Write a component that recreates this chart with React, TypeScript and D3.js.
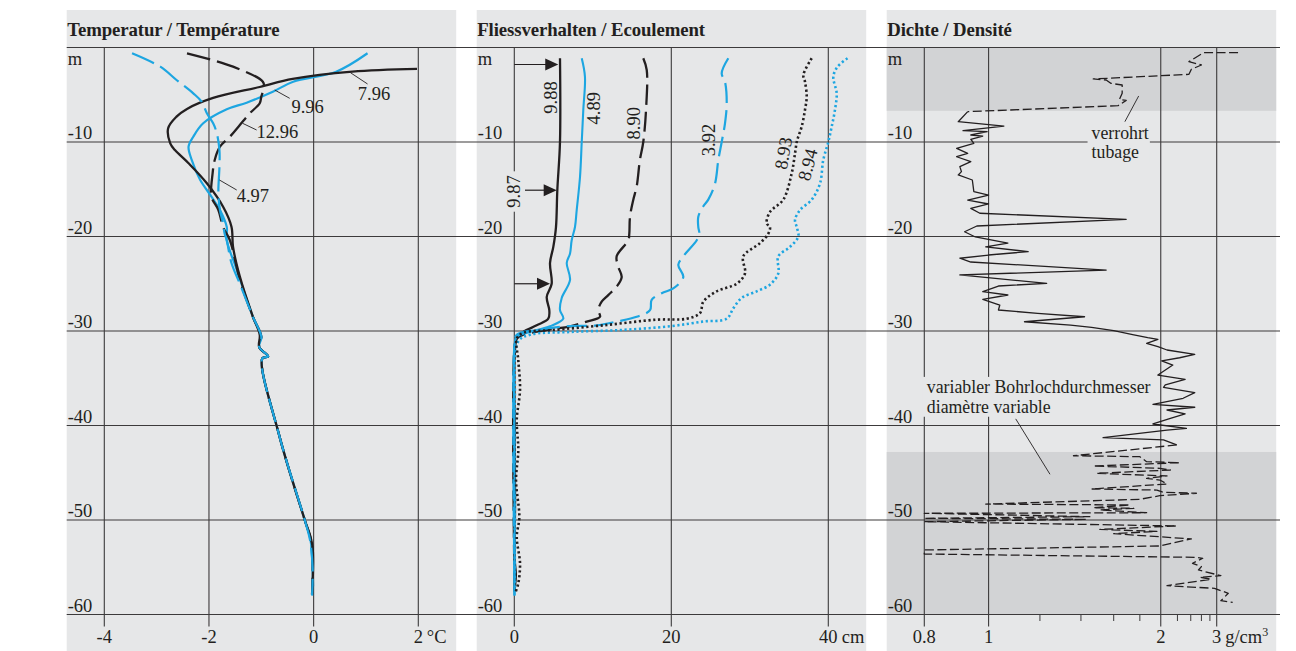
import React, { useEffect, useRef } from "react";
import * as d3 from "d3";

type Pt = [number, number]; // [value, depth in m]

const BG = "#e6e7e8";
const SHADE = "#d2d3d5";
const INK = "#231f20";
const GRID = "#3c3a3b";
const BLUE = "#1da6e1";
const FONT = "'Liberation Serif', 'Times New Roman', serif";
const FS = 18.5; // numbers
const FS_NOTE = 17.8;

// depth axis
const depthTicks = [0, -10, -20, -30, -40, -50, -60];
const depthLabels = ["m", "-10", "-20", "-30", "-40", "-50", "-60"];

// x axes
const tempTicks = [-4, -2, 0, 2];
const flowTicks = [0, 20, 40];
const densTicks = [0.8, 1, 2, 3];
const densMinor = [1.2, 1.4, 1.6, 1.8, 2.2, 2.4, 2.6, 2.8];

// Temperatur (°C)
const t0796: Pt[] = [[1.975,-2.27],[0.74,-2.56],[-0.4,-3.33],[-1.03,-4.18],[-1.92,-5.34],[-2.42,-6.5],[-2.62,-7.32],[-2.78,-8.55],[-2.74,-10.14],[-2.65,-10.85],[-2.39,-12.25],[-2.04,-14.37],[-1.73,-16.85],[-1.57,-18.96],[-1.54,-21.1],[-1.41,-24.25],[-1.16,-28.5],[-1.03,-30.4],[-1.04,-31.7],[-0.87,-32.7],[-0.98,-32.9],[-0.65,-41.2],[-0.17,-50],[-0.03,-52.5],[-0.01,-54.2],[-0.03,-57.9]];
const t0996: Pt[] = [[1.03,-0.61],[0.43,-2.56],[-0.39,-3.62],[-0.78,-4.68],[-1.28,-5.84],[-1.66,-6.54],[-2.11,-8.02],[-2.3,-9.44],[-2.39,-10.5],[-2.33,-11.9],[-2.17,-14.0],[-1.95,-15.8],[-1.79,-17.2],[-1.66,-19.0],[-1.66,-20.4],[-1.47,-23.5],[-1.16,-28.5],[-1.0,-30.6],[-1.04,-31.7],[-0.87,-32.7],[-0.98,-32.9],[-0.65,-41.2],[-0.17,-50],[-0.06,-52.1],[-0.02,-55.3],[-0.01,-57]];
const t1296: Pt[] = [[-2.42,-0.61],[-1.54,-2.03],[-0.97,-3.62],[-0.95,-4.2],[-1.0,-5.2],[-1.03,-5.9],[-1.22,-6.96],[-1.41,-8.2],[-1.6,-9.44],[-1.79,-10.5],[-1.89,-11.9],[-1.93,-13.3],[-1.95,-15.8],[-1.82,-17.2],[-1.73,-19.0],[-1.6,-20.4],[-1.41,-24.6],[-1.16,-28.5],[-1.0,-30.6],[-1.04,-31.7],[-0.87,-32.7],[-0.98,-32.9],[-0.65,-41.2],[-0.17,-50],[-0.04,-52.3],[-0.03,-57.9]];
const t0497: Pt[] = [[-3.47,-0.61],[-2.93,-2.03],[-2.62,-3.44],[-2.3,-4.85],[-2.14,-5.73],[-2.04,-6.96],[-1.92,-8.02],[-1.85,-9.08],[-1.8,-10.85],[-1.8,-12.6],[-1.82,-15.4],[-1.79,-17.2],[-1.73,-18.6],[-1.7,-19.7],[-1.66,-20.4],[-1.57,-22.8],[-1.41,-25],[-1.16,-28.5],[-1.0,-30.6],[-1.04,-31.7],[-0.87,-32.7],[-0.98,-32.9],[-0.65,-41.2],[-0.17,-50],[-0.07,-52.1],[-0.02,-55],[-0.03,-58]];

// Fliessverhalten (cm)
const f0988: Pt[] = [[5.82,-1.14],[5.82,-10],[5.48,-15.1],[5.31,-19],[4.97,-21.1],[4.55,-22.8],[4.76,-25],[4.13,-26.4],[4.46,-27.8],[4.33,-28.7],[2.85,-29.4],[1.15,-30.1],[0.31,-30.8],[0.09,-32],[0.03,-37.3],[0.1,-47.9],[0.05,-54.2],[0.2,-55.8],[0.03,-57.4]];
const f0489: Pt[] = [[8.59,-1.14],[9.0,-3.09],[8.79,-6.6],[8.59,-10],[8.37,-13.7],[7.95,-17.2],[7.73,-19],[7.31,-20.4],[7.1,-21.8],[6.68,-22.8],[7.1,-24.6],[6.04,-26.5],[5.82,-27.8],[6.24,-28.7],[4.55,-29.5],[2.0,-30.1],[0.31,-30.6],[0.03,-31.5],[0.0,-40],[0.05,-50],[0.0,-58]];
const f0890: Pt[] = [[16.43,-1.14],[16.87,-2.38],[16.78,-6.6],[16.43,-10],[16.0,-11.9],[15.59,-14.7],[15.16,-16.1],[14.74,-17.9],[14.65,-19.7],[14.52,-20.4],[13.04,-22.1],[13.25,-23.2],[13.68,-24.3],[13.04,-25.3],[11.97,-26.2],[11.13,-26.9],[10.7,-27.8],[10.92,-28.5],[9.22,-29.0],[7.1,-29.5],[4.13,-29.9],[1.15,-30.4],[0.31,-30.8],[0.05,-31.5],[0.05,-58]];
const f0392: Pt[] = [[27.26,-1.14],[26.42,-2.73],[26.84,-3.62],[27.06,-5.9],[26.84,-8.02],[26.42,-10],[25.99,-11.9],[25.57,-14.4],[24.71,-16.1],[24.08,-16.8],[23.44,-17.9],[23.44,-19.0],[23.57,-19.7],[23.24,-20.4],[21.53,-22.1],[20.89,-23.0],[21.53,-24.3],[20.25,-25.5],[18.78,-26.0],[17.5,-26.7],[17.29,-27.8],[15.59,-28.5],[13.04,-29.0],[10.5,-29.4],[6.68,-29.5],[2.85,-29.9],[0.31,-30.4],[0.05,-31.2],[0.05,-58]];
const f0893: Pt[] = [[37.89,-1.14],[36.82,-2.91],[37.03,-3.62],[37.25,-5.2],[37.03,-6.6],[36.61,-8.38],[36.18,-9.44],[35.98,-10],[35.76,-11.2],[35.34,-13.3],[34.27,-16.1],[32.57,-17.4],[32.15,-18.6],[32.57,-19.0],[32.36,-19.7],[31.3,-20.7],[29.17,-22.1],[29.39,-23.9],[28.33,-25.0],[25.78,-25.8],[24.08,-26.9],[23.66,-28.1],[21.96,-28.7],[18.14,-28.8],[11.34,-29.4],[4.97,-29.9],[1.15,-30.2],[0.31,-30.8],[0.51,-33.1],[0.73,-36.2],[0.31,-39.4],[0.51,-42.6],[0.22,-45.8],[0.64,-49.7],[0.31,-51.8],[0.73,-54.6],[0.51,-56.7],[0.09,-57.8]];
const f0894: Pt[] = [[42.45,-1.14],[41.18,-2.03],[40.64,-3.09],[41.07,-4.85],[40.85,-6.6],[40.43,-8.38],[40.0,-10],[39.36,-11.9],[38.94,-14.4],[37.89,-16.1],[36.39,-17.2],[35.76,-18.25],[35.98,-19.0],[36.18,-20.0],[35.12,-21.1],[33.63,-22.1],[33.63,-23.9],[32.57,-25.1],[30.88,-25.8],[28.97,-26.5],[27.9,-27.6],[27.06,-28.7],[24.08,-29.0],[19.83,-29.5],[13.46,-29.9],[7.1,-30.1],[2.0,-30.4],[0.51,-31.1],[0.06,-37.3],[0.06,-47.9],[0.06,-57.4]];

// arrows on the 9.88 profile: [depth, from cm, to cm]
const arrows: [number, number, number][] = [[-1.8, 0, 5.6], [-15.1, 1.36, 5.4], [-25, 0, 4.55]];

// Dichte (g/cm3): cased, open hole, variable diameter
const dCasing: Pt[] = [[4.4,-0.55],[2.65,-0.55],[2.6,-0.69],[2.37,-1.5],[2.6,-1.85],[2.41,-2.31],[2.37,-2.84],[1.47,-3.33],[1.55,-3.44],[1.58,-3.79],[1.66,-3.97],[1.66,-4.85],[1.64,-5.5],[1.69,-5.6],[1.63,-6.16],[0.93,-6.79]];
const dOpen: Pt[] = [[0.93,-6.79],[0.9,-7.85],[1.055,-8.31],[0.915,-8.8],[0.995,-8.91],[0.94,-9.26],[0.98,-9.37],[0.94,-9.71],[0.95,-10.14],[0.895,-10.67],[0.93,-11.2],[0.895,-11.56],[0.94,-12.08],[0.905,-12.61],[0.91,-13.14],[0.9,-13.49],[0.945,-14.02],[0.95,-15.26],[1.0,-15.61],[0.93,-16.14],[1.0,-16.56],[0.94,-17.02],[0.97,-17.54],[1.69,-18.18],[0.96,-18.89],[0.92,-19.5],[0.955,-20.05],[1.07,-20.7],[0.99,-21.1],[1.15,-21.6],[1.0,-21.96],[0.905,-22.3],[0.94,-22.7],[1.55,-23.55],[0.905,-24.07],[1.23,-24.95],[1.035,-25.24],[0.98,-25.84],[1.07,-26.19],[0.98,-26.65],[1.04,-27.25],[1.035,-27.78],[1.19,-28.13],[1.42,-28.49],[1.135,-29.02],[1.345,-29.37],[1.46,-29.61],[1.6,-29.97],[1.75,-30.42],[1.87,-30.71],[1.97,-30.88],[1.86,-31.3],[1.97,-31.66],[2.07,-32.01],[2.47,-32.47],[2.23,-32.83],[2.01,-33.17],[2.14,-33.6],[1.97,-34.66],[2.31,-35.11],[2.05,-35.71],[2.03,-35.96],[2.47,-36.53],[2.28,-37.12],[1.92,-37.76],[2.47,-38.07],[2.07,-38.36],[2.31,-38.78],[2.11,-39.24],[1.92,-39.84],[2.33,-40.3],[2.07,-40.48],[1.53,-41.29],[2.03,-41.53],[2.19,-42.06]];
const dVariable: Pt[] = [[2.19,-42.06],[1.36,-43.2],[1.8,-43.3],[1.86,-43.83],[2.23,-43.94],[1.47,-44.29],[1.99,-44.53],[2.11,-44.71],[1.49,-45.06],[2.07,-45.34],[1.86,-45.59],[1.99,-45.77],[2.07,-46.19],[1.46,-46.72],[1.96,-46.83],[2.03,-47.07],[2.5,-47.17],[1.99,-47.43],[1.8,-47.81],[0.99,-48.31],[1.72,-48.41],[1.47,-48.7],[1.75,-48.76],[1.51,-48.94],[1.86,-49.23],[0.8,-49.29],[1.45,-49.65],[0.8,-49.82],[1.43,-49.93],[0.8,-50.18],[2.19,-50.63],[1.51,-51.0],[1.96,-51.2],[1.6,-51.45],[2.41,-52.0],[1.99,-52.75],[0.8,-53.17],[0.8,-53.6],[2.5,-53.95],[2.63,-54.05],[2.43,-54.58],[2.6,-54.94],[2.54,-55.29],[3.15,-55.89],[2.57,-56.06],[2.83,-56.27],[2.07,-56.95],[2.93,-57.23],[3.5,-57.76],[3.15,-58.54],[3.8,-58.71]];
const shadeRanges: [number, number][] = [[0, -6.7], [-42.8, -60]];

const App = () => {
  const svgRef = useRef<SVGSVGElement | null>(null);

  useEffect(() => {
    const svg = d3.select(svgRef.current);
    svg.selectAll("*").remove();
    svg.style("font-family", FONT);

    const y = d3.scaleLinear().domain([0, -60]).range([47.5, 614.5]);
    const xTemp = d3.scaleLinear().domain([-4, 2]).range([104.3, 418.3]);
    const xFlow = d3.scaleLinear().domain([0, 40]).range([514.3, 828.3]);
    // density axis is linear in exp(-k*rho)
    const K = 1.124;
    const densLin = d3.scaleLinear().domain([Math.exp(-K * 0.8), Math.exp(-K * 3)]).range([924.3, 1216.7]);
    const xDens = (r: number) => densLin(Math.exp(-K * r));

    const panelW = 389.5;
    const panels = [
      { x0: 66.7, title: "Temperatur / Température", x: xTemp, ticks: tempTicks },
      { x0: 476.7, title: "Fliessverhalten / Ecoulement", x: xFlow, ticks: flowTicks },
      { x0: 886.7, title: "Dichte / Densité", x: xDens, ticks: densTicks },
    ];

    const bg = svg.append("g");
    const grid = svg.append("g");
    const masks = svg.append("g");
    const marks = svg.append("g");
    const texts = svg.append("g").attr("fill", INK);

    const yBottom = y(-60);

    panels.forEach((p) => {
      bg.append("rect").attr("x", p.x0).attr("y", 10).attr("width", panelW).attr("height", 641).attr("fill", BG);
      texts.append("text").attr("x", p.x0 + 0.5).attr("y", 35.5).attr("font-size", 18.8).attr("font-weight", "bold")
        .attr("letter-spacing", -0.1).text(p.title);

      p.ticks.forEach((t) => {
        grid.append("line").attr("x1", p.x(t)).attr("x2", p.x(t)).attr("y1", y(0)).attr("y2", yBottom + 12)
          .attr("stroke", GRID).attr("stroke-width", 1.1);
        texts.append("text").attr("x", p.x(t)).attr("y", 643).attr("text-anchor", "middle").attr("font-size", FS).text(`${t}`);
      });

      depthTicks.forEach((d, i) => {
        texts.append("text").attr("x", p.x0 + 1).attr("y", d === 0 ? y(0) + 17.5 : y(d) - 3)
          .attr("font-size", FS).text(depthLabels[i]);
      });
    });

    // shading of cased / variable-diameter sections
    shadeRanges.forEach(([a, b]) => {
      bg.append("rect").attr("x", panels[2].x0).attr("width", panelW).attr("y", y(a)).attr("height", y(b) - y(a)).attr("fill", SHADE);
    });

    densMinor.forEach((t) => {
      grid.append("line").attr("x1", xDens(t)).attr("x2", xDens(t)).attr("y1", yBottom).attr("y2", yBottom + 6.5)
        .attr("stroke", GRID).attr("stroke-width", 1);
    });

    // horizontal depth lines run across all panels
    depthTicks.forEach((d) => {
      grid.append("line").attr("x1", 66.7).attr("x2", 1280).attr("y1", y(d)).attr("y2", y(d))
        .attr("stroke", GRID).attr("stroke-width", 1.2);
    });

    // units after the last tick label
    const unit = (x: number, label: string, sup?: string) => {
      const t = texts.append("text").attr("x", x).attr("y", 643).attr("font-size", FS).text(label);
      if (sup) t.append("tspan").attr("font-size", 12).attr("dy", -7).text(sup);
    };
    unit(xTemp(2) + 8.5, "°C");
    unit(xFlow(40) + 13.5, "cm");
    unit(xDens(3) + 8.5, "g/cm", "3");

    const draw = (data: Pt[], xs: (v: number) => number, color: string, width: number, dash: string | null, curve: d3.CurveFactory = d3.curveCatmullRom) => {
      const line = d3.line<Pt>().x((d) => xs(d[0])).y((d) => y(d[1])).curve(curve);
      marks.append("path").attr("d", line(data) as string).attr("fill", "none").attr("stroke", color)
        .attr("stroke-width", width).attr("stroke-dasharray", dash).attr("stroke-linejoin", "round");
    };

    // temperature (blue dashed on top, black shows through its gaps)
    draw(t0996, xTemp, BLUE, 2.2, null);
    draw(t0796, xTemp, INK, 2.3, null);
    draw(t1296, xTemp, INK, 2.3, "24,7");
    draw(t0497, xTemp, BLUE, 2.2, "24,7");

    // flow
    draw(f0988, xFlow, INK, 2.3, null);
    draw(f0890, xFlow, INK, 2.3, "20,7");
    draw(f0489, xFlow, BLUE, 2.1, null);
    draw(f0392, xFlow, BLUE, 2.2, "20,7");
    draw(f0894, xFlow, BLUE, 2.6, "2.2,2.6");
    draw(f0893, xFlow, INK, 2.6, "2.2,2.6");

    arrows.forEach(([d, a, b]) => {
      const yy = y(d), x1 = xFlow(a), x2 = xFlow(b);
      marks.append("line").attr("x1", x1).attr("x2", x2 - 10).attr("y1", yy).attr("y2", yy).attr("stroke", INK).attr("stroke-width", 1.2);
      marks.append("path").attr("d", `M${x2},${yy}L${x2 - 13},${yy - 6}L${x2 - 13},${yy + 6}Z`).attr("fill", INK);
    });

    // density
    draw(dCasing, xDens, INK, 1.3, "9,3.5", d3.curveLinear);
    draw(dOpen, xDens, INK, 1.3, null, d3.curveLinear);
    draw(dVariable, xDens, INK, 1.3, "9,3.5", d3.curveLinear);

    // labels for temperature profiles: [text, T, baseline depth, leader T1, d1, T2, d2]
    const tempLabels: [string, number, number, number, number, number, number][] = [
      ["7.96", 0.844, -5.56, 0.705, -2.67, 1.03, -3.86],
      ["9.96", -0.425, -6.96, -0.743, -4.5, -0.457, -5.38],
      ["12.96", -1.09, -9.61, -1.358, -8.02, -1.09, -8.73],
      ["4.97", -1.47, -16.32, -1.8, -14.02, -1.47, -15.08],
    ];
    tempLabels.forEach(([s, t, d, a1, b1, a2, b2]) => {
      texts.append("text").attr("x", xTemp(t)).attr("y", y(d)).attr("font-size", FS).text(s);
      marks.append("line").attr("x1", xTemp(a1)).attr("y1", y(b1)).attr("x2", xTemp(a2)).attr("y2", y(b2))
        .attr("stroke", INK).attr("stroke-width", 0.9);
    });

    // rotated labels for flow profiles: [text, cm, depth, angle, masked]
    const flowLabels: [string, number, number, number, boolean][] = [
      ["9.88", 4.7, -5.29, -90, false],
      ["4.89", 10.1, -6.43, -90, false],
      ["8.90", 15.2, -8.02, -90, false],
      ["3.92", 24.8, -9.79, -90, false],
      ["8.93", 34.3, -11.2, -80, false],
      ["8.94", 37.4, -12.4, -76, false],
      ["9.87", 0, -15.24, -90, true],
    ];
    flowLabels.forEach(([s, c, d, a, m]) => {
      const tr = `translate(${xFlow(c)},${y(d)}) rotate(${a})`;
      const t = texts.append("text").attr("transform", tr).attr("text-anchor", "middle").attr("dominant-baseline", "central")
        .attr("font-size", FS).text(s);
      if (m) {
        const bb = (t.node() as SVGTextElement).getBBox();
        masks.append("rect").attr("transform", tr).attr("x", bb.x - 4).attr("y", bb.y).attr("width", bb.width + 8).attr("height", bb.height).attr("fill", BG);
      }
    });

    // density annotations
    const note = (lines: string[], r: number, d0: number, d1: number) => {
      const g = texts.append("g");
      g.append("text").attr("x", xDens(r)).attr("y", y(d0)).attr("font-size", FS_NOTE).text(lines[0]);
      g.append("text").attr("x", xDens(r)).attr("y", y(d1)).attr("font-size", FS_NOTE).text(lines[1]);
      const bb = (g.node() as SVGGElement).getBBox();
      masks.append("rect").attr("x", bb.x - 4).attr("y", bb.y).attr("width", bb.width + 5).attr("height", bb.height).attr("fill", BG);
    };
    note(["verrohrt", "tubage"], 1.46, -9.7, -11.7);
    note(["variabler Bohrlochdurchmesser", "diamètre variable"], 0.807, -36.55, -38.65);
    const leaders: [number, number, number, number][] = [[1.68, -7.85, 1.79, -5.13], [1.1, -39.3, 1.245, -45.16]];
    leaders.forEach(([r1, d1, r2, d2]) => {
      marks.append("line").attr("x1", xDens(r1)).attr("y1", y(d1)).attr("x2", xDens(r2)).attr("y2", y(d2))
        .attr("stroke", INK).attr("stroke-width", 0.9);
    });
  }, []);

  return <svg ref={svgRef} width={1296} height={651} style={{ position: "absolute", left: 0, top: 0, display: "block" }} />;
};

export default App;
